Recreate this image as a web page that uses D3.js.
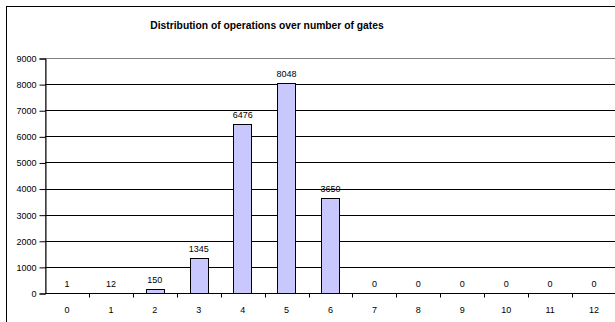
<!DOCTYPE html>
<html><head><meta charset="utf-8">
<script src="https://cdn.jsdelivr.net/npm/d3@7"></script>
<style>
html,body{margin:0;padding:0;background:#fff;overflow:hidden;}
text{font-family:"Liberation Sans",Arial,sans-serif;}
</style></head>
<body><svg id="c" width="615" height="322"></svg>
<script>
const categories = ["0","1","2","3","4","5","6","7","8","9","10","11","12"];
const values = [1,12,150,1345,6476,8048,3650,0,0,0,0,0,0];
const yTicks = [0,1000,2000,3000,4000,5000,6000,7000,8000,9000];
const title = "Distribution of operations over number of gates";

const svg = d3.select("#c");
const pLeft = 45, pRight = 616, pTop = 59, pBottom = 294;

// chart frame
svg.append("rect").attr("x",6.5).attr("y",6.5).attr("width",700).attr("height",400)
  .attr("fill","#fff").attr("stroke","#000").attr("stroke-width",1);

const x = d3.scaleBand().domain(categories).range([pLeft,pRight]).paddingInner(0.58).paddingOuter(0.29);
const xb = d3.scaleBand().domain(categories).range([pLeft,pRight]);
const y = d3.scaleLinear().domain([0,9000]).range([pBottom,pTop]);

// plot area border
svg.append("rect").attr("x",pLeft+0.5).attr("y",pTop-0.5)
  .attr("width",pRight-pLeft).attr("height",pBottom-pTop)
  .attr("fill","none").attr("stroke","#808080");

// gridlines
svg.append("g").selectAll("line").data(yTicks.filter(d=>d>0 && d<9000)).join("line")
  .attr("x1",pLeft).attr("x2",pRight)
  .attr("y1",d=>Math.round(y(d))-0.5).attr("y2",d=>Math.round(y(d))-0.5)
  .attr("stroke","#000").attr("stroke-width",1);

// bars
const rows = values.map((v,i)=>({c:categories[i],v}));
const base = pBottom-0.5;
svg.append("g").selectAll("rect").data(rows.filter(d=>d.v>0)).join("rect")
  .attr("x",d=>Math.round(x(d.c))+0.5).attr("y",d=>Math.round(y(d.v))-0.5)
  .attr("width",Math.round(x.bandwidth())).attr("height",d=>base-(Math.round(y(d.v))-0.5))
  .attr("fill","#C8C8FF").attr("stroke","#000").attr("stroke-width",1);

// value labels
svg.append("g").selectAll("text").data(rows).join("text")
  .attr("x",d=>xb(d.c)+xb.bandwidth()/2).attr("y",d=>y(d.v)-7)
  .attr("text-anchor","middle").attr("font-size",9).attr("fill","#000")
  .text(d=>d.v);

// y axis
const ya = d3.axisLeft(y).tickValues(yTicks).tickSize(6).tickPadding(3).tickFormat(d3.format("d"));
const gy = svg.append("g").attr("transform",`translate(${pLeft+0.5},-0.5)`).call(ya);
gy.select(".domain").attr("stroke","#000");
gy.selectAll(".tick line").attr("stroke","#000");
gy.selectAll("text").attr("font-size",9).attr("font-family","Liberation Sans, Arial, sans-serif").attr("fill","#000");

// x axis
const gx = svg.append("g").attr("transform",`translate(0,${base})`);
gx.append("line").attr("x1",pLeft).attr("x2",pRight).attr("stroke","#000");
gx.selectAll("line.t").data(categories.slice(1)).join("line").attr("class","t")
  .attr("x1",d=>Math.round(xb(d))+0.5).attr("x2",d=>Math.round(xb(d))+0.5)
  .attr("y1",0).attr("y2",4).attr("stroke","#000");
gx.selectAll("text").data(categories).join("text")
  .attr("x",d=>xb(d)+xb.bandwidth()/2).attr("y",19)
  .attr("text-anchor","middle").attr("font-size",9).attr("fill","#000").text(d=>d);

// title
svg.append("text").attr("x",267).attr("y",29).attr("text-anchor","middle")
  .attr("font-size",10.3).attr("font-weight","bold").attr("fill","#000").text(title);
</script></body></html>
